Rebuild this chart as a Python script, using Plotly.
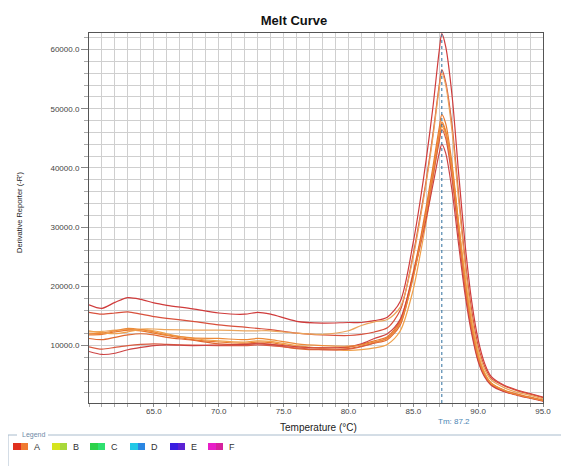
import plotly.graph_objects as go

# ---------------- data ----------------
temps = [60, 61, 62, 63, 64, 65, 66, 68, 70, 72, 73, 74, 76, 78, 80, 81, 82, 83, 84,
         85, 85.5, 86, 86.5, 87, 87.2, 87.5, 88, 88.5, 89, 89.5, 90, 90.5, 91, 92, 93, 94, 95]

well_1 = [16900, 16300, 17300, 18100, 17800, 17200, 16800, 16200, 15500, 15300, 15600, 15300, 14100, 13800, 13900, 13900, 14200, 14800, 17500,
          27500, 34000, 41500, 50000, 59800, 62700, 60500, 52000, 39000, 27000, 17500, 11000, 7000, 4800, 3300, 2500, 1900, 1300]
well_2 = [15600, 15300, 15500, 15700, 15300, 14900, 14600, 14100, 13500, 13100, 12900, 12700, 12100, 11800, 11700, 11900, 12300, 13000, 16000,
          25500, 31500, 38000, 45500, 54000, 56600, 54500, 47000, 35500, 24500, 16000, 10000, 6500, 4500, 3200, 2400, 1800, 1200]
well_3 = [12300, 12400, 12600, 12700, 12800, 12800, 12700, 12600, 12600, 12500, 12500, 12500, 12100, 11900, 12500, 13400, 14000, 14400, 16500,
          25000, 31000, 37500, 45000, 53500, 56000, 54000, 46000, 34500, 23500, 15000, 9300, 6000, 4200, 2900, 2100, 1600, 1000]
well_4 = [11800, 11900, 12300, 12600, 12500, 12100, 11700, 11000, 10600, 10400, 10600, 10500, 9800, 9600, 9700, 10200, 10800, 11500, 14300,
          22500, 27500, 33500, 40000, 46800, 49000, 47500, 40500, 30500, 21000, 13500, 8300, 5300, 3700, 2500, 1800, 1300, 800]
well_5 = [11200, 11000, 11400, 11800, 12000, 11800, 11400, 10900, 10300, 10200, 10400, 10200, 9500, 9300, 9500, 9900, 10400, 11000, 13500,
          22000, 27000, 32500, 39000, 45500, 47500, 46000, 39000, 29500, 20000, 13000, 8000, 5000, 3500, 2300, 1700, 1200, 700]
well_6 = [12500, 12200, 12000, 12300, 12700, 12500, 12000, 11200, 10800, 10600, 10800, 10700, 10000, 9500, 9200, 9300, 9600, 10200, 12500,
          19500, 25000, 31000, 38000, 45000, 47000, 45700, 39500, 30500, 21500, 14000, 8600, 5400, 3700, 2400, 1700, 1200, 700]
well_7 = [9800, 9400, 9700, 10000, 10200, 10300, 10200, 10100, 10000, 10000, 10100, 10000, 9600, 9300, 9400, 9800, 10500, 11300, 14000,
          22000, 27000, 32500, 38500, 44500, 46500, 45000, 38000, 28500, 19500, 12500, 7600, 4900, 3400, 2300, 1700, 1200, 700]
well_8 = [9000, 8500, 8700, 9300, 9700, 10000, 10100, 10000, 10100, 10200, 10300, 10200, 9800, 9600, 9800, 10300, 11200, 12000, 14500,
          22000, 26500, 31500, 37000, 42500, 44000, 42500, 36000, 27000, 18500, 12000, 7300, 4700, 3300, 2200, 1600, 1100, 600]
well_9 = [12000, 12100, 12500, 12900, 12700, 12300, 11800, 11300, 11200, 11000, 11200, 11000, 10300, 10000, 9900, 10100, 10600, 11200, 13800,
          21500, 26800, 32500, 39000, 45800, 47800, 46300, 39800, 30000, 20500, 13300, 8100, 5100, 3600, 2400, 1700, 1200, 700]

series_values = [well_1, well_2, well_3, well_4, well_5, well_6, well_7, well_8, well_9]

x_tick_values = [65, 70, 75, 80, 85, 90, 95]
x_tick_labels = ["65.0", "70.0", "75.0", "80.0", "85.0", "90.0", "95.0"]
y_tick_values = [10000, 20000, 30000, 40000, 50000, 60000]
y_tick_labels = ["10000.0", "20000.0", "30000.0", "40000.0", "50000.0", "60000.0"]

tm_value = 87.2
legend_names = ["A", "B", "C", "D", "E", "F"]

# ---------------- styles ----------------
line_colors = ["#cf3b3b", "#d8503c", "#eba45a", "#e9782c", "#e0672f",
               "#f0a04a", "#d95a40", "#cc4242", "#ec8a38"]
legend_colors = [("#e0301e", "#f07a30"), ("#d6e41e", "#a8d83a"), ("#2bd24a", "#2ee070"),
                 ("#22c8e6", "#2a86e2"), ("#3a1ee0", "#5a22d4"), ("#e81ec8", "#d6229e")]

OFF = 8                       # page body margin of the html output
W, H = 569, 466
PL, PR, PT, PB = 89, 543, 33, 403   # plot area in page pixels


def px_x(px):
    return (px - PL) / (PR - PL)


def px_y(py):
    return (PB - py) / (PB - PT)


font_family = "Liberation Sans, Arial, sans-serif"

fig = go.Figure()
for vals, col in zip(series_values, line_colors):
    fig.add_trace(go.Scatter(x=temps, y=vals, mode="lines",
                             line=dict(color=col, width=1.2, shape="spline", smoothing=0.8),
                             showlegend=False, hoverinfo="skip"))

grid_col = "#cfcfcf"
fig.update_layout(
    width=W, height=H,
    margin=dict(l=PL - OFF, r=W - (PR - OFF), t=PT - OFF, b=H - (PB - OFF), pad=0),
    paper_bgcolor="white", plot_bgcolor="white",
    font=dict(family=font_family, color="#333"),
    title=dict(text="<b>Melt Curve</b>", x=(294 - OFF) / W, xanchor="center",
               y=1 - (20 - OFF) / H, yanchor="middle", font=dict(size=13, color="#111")),
    xaxis=dict(range=[60, 95], tickvals=x_tick_values, ticktext=x_tick_labels,
               showgrid=True, gridcolor=grid_col, gridwidth=1,
               ticks="outside", ticklen=3, tickcolor="#888",
               ticklabelstandoff=-3,
               tickfont=dict(size=8, color="#444"),
               showline=True, linecolor="#555", linewidth=1, mirror=True,
               zeroline=False,
               minor=dict(dtick=1, tick0=60, showgrid=True, gridcolor=grid_col,
                          ticks="outside", ticklen=3, tickcolor="#aaa")),
    yaxis=dict(range=[300, 62800], tickvals=y_tick_values, ticktext=y_tick_labels,
               showgrid=True, gridcolor=grid_col, gridwidth=1,
               ticks="outside", ticklen=7, tickcolor="#888",
               tickfont=dict(size=8, color="#444"),
               showline=True, linecolor="#555", linewidth=1, mirror=True,
               zeroline=False,
               minor=dict(dtick=2000, tick0=0, showgrid=True, gridcolor=grid_col,
                          ticks="outside", ticklen=4, tickcolor="#aaa")),
)

# Tm dotted line
fig.add_shape(type="line", xref="x", yref="paper", x0=tm_value, x1=tm_value, y0=0, y1=1,
              line=dict(color="#2f6f9f", width=1, dash="dot"))
fig.add_annotation(x=tm_value, xref="x", y=px_y(421), yref="paper",
                   text="Tm: %.1f" % tm_value, showarrow=False, xanchor="left", yanchor="middle",
                   xshift=-6, font=dict(size=8, color="#4a86b4"))

# axis titles
fig.add_annotation(x=px_x(318), y=px_y(427), xref="paper", yref="paper",
                   text="Temperature (°C)", showarrow=False, xanchor="center", yanchor="middle",
                   font=dict(size=10, color="#222"))
fig.add_annotation(x=px_x(19), y=px_y(212), xref="paper", yref="paper",
                   text="Derivative Reporter (-R')", showarrow=False, textangle=-90,
                   xanchor="center", yanchor="middle",
                   font=dict(size=7.5, color="#222"))

# legend group box
box_col = "#a9bccd"
fig.add_shape(type="line", xref="paper", yref="paper",
              x0=px_x(8), x1=px_x(17), y0=px_y(435), y1=px_y(435), line=dict(color=box_col, width=1))
fig.add_shape(type="line", xref="paper", yref="paper",
              x0=px_x(48), x1=px_x(566), y0=px_y(435), y1=px_y(435), line=dict(color=box_col, width=1))
fig.add_shape(type="line", xref="paper", yref="paper",
              x0=px_x(8), x1=px_x(8), y0=px_y(435), y1=px_y(466), line=dict(color=box_col, width=1))
fig.add_annotation(x=px_x(20), y=px_y(435), xref="paper", yref="paper", text="Legend",
                   showarrow=False, xanchor="left", yanchor="middle",
                   font=dict(size=7, color="#6f8aa6"))

swatch_x = [13, 52, 90, 130, 170, 208]
for name, sx, (c1, c2) in zip(legend_names, swatch_x, legend_colors):
    fig.add_shape(type="rect", xref="paper", yref="paper",
                  x0=px_x(sx), x1=px_x(sx + 8), y0=px_y(450), y1=px_y(443),
                  line=dict(width=0), fillcolor=c1)
    fig.add_shape(type="rect", xref="paper", yref="paper",
                  x0=px_x(sx + 8), x1=px_x(sx + 15), y0=px_y(450), y1=px_y(443),
                  line=dict(width=0), fillcolor=c2)
    fig.add_annotation(x=px_x(sx + 19), y=px_y(446.5), xref="paper", yref="paper",
                       text=name, showarrow=False, xanchor="left", yanchor="middle",
                       font=dict(size=9, color="#333"))

fig.write_html("out.html")
